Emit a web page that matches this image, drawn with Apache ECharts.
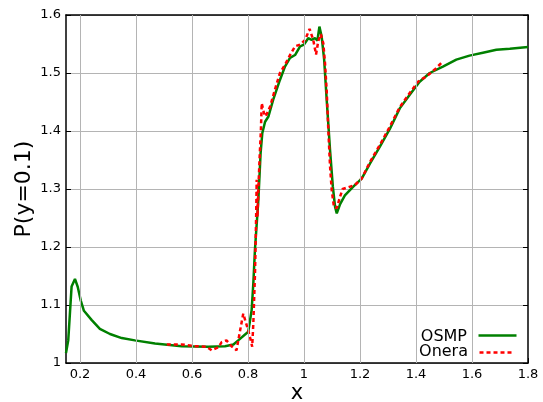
<!DOCTYPE html>
<html><head><meta charset="utf-8">
<script src="https://cdn.jsdelivr.net/npm/echarts@6/dist/echarts.min.js"></script>
<style>html,body{margin:0;padding:0;background:#fff}#c{width:543px;height:402px}</style>
</head><body><div id="c"></div>
<script>
const xTicks = [0.2, 0.4, 0.6, 0.8, 1.0, 1.2, 1.4, 1.6, 1.8];
const yTicks = [1.0, 1.1, 1.2, 1.3, 1.4, 1.5, 1.6];
const seriesNames = ['OSMP', 'Onera'];
const osmpX = [0.150,0.158,0.170,0.182,0.192,0.2025,0.214,0.242,0.271,0.307,0.349,0.396,0.468,0.563,0.658,0.718,0.748,0.765,0.801,0.805,0.813,0.819,0.825,0.837,0.845,0.851,0.861,0.873,0.890,0.914,0.932,0.950,0.968,0.986,1.000,1.015,1.027,1.039,1.048,1.055,1.063,1.072,1.081,1.087,1.093,1.103,1.111,1.117,1.129,1.146,1.176,1.206,1.236,1.271,1.307,1.342,1.377,1.413,1.449,1.496,1.544,1.591,1.639,1.687,1.735,1.800];
const osmpY = [1.017,1.039,1.132,1.145,1.131,1.108,1.090,1.074,1.059,1.050,1.043,1.039,1.0335,1.029,1.028,1.029,1.032,1.039,1.054,1.056,1.091,1.137,1.197,1.281,1.362,1.396,1.416,1.425,1.454,1.488,1.511,1.526,1.531,1.546,1.549,1.560,1.557,1.560,1.556,1.580,1.563,1.523,1.454,1.411,1.367,1.304,1.269,1.258,1.274,1.289,1.304,1.318,1.344,1.373,1.404,1.439,1.462,1.485,1.500,1.511,1.523,1.530,1.535,1.540,1.542,1.545];
const oneraX = [0.510,0.563,0.611,0.652,0.670,0.694,0.706,0.723,0.741,0.759,0.771,0.783,0.789,0.801,0.810,0.815,0.819,0.825,0.829,0.831,0.834,0.837,0.842,0.846,0.849,0.852,0.857,0.863,0.879,0.896,0.914,0.932,0.950,0.968,0.986,1.004,1.020,1.033,1.043,1.051,1.060,1.069,1.075,1.081,1.087,1.093,1.099,1.107,1.117,1.129,1.138,1.158,1.182,1.206,1.236,1.271,1.307,1.342,1.377,1.407,1.437,1.467,1.490];
const oneraY = [1.032,1.032,1.029,1.028,1.022,1.027,1.036,1.039,1.029,1.022,1.054,1.085,1.088,1.056,1.039,1.028,1.068,1.154,1.250,1.316,1.252,1.300,1.360,1.400,1.448,1.445,1.431,1.425,1.442,1.471,1.500,1.514,1.531,1.546,1.549,1.557,1.576,1.557,1.532,1.555,1.567,1.551,1.517,1.470,1.400,1.339,1.298,1.269,1.267,1.287,1.300,1.303,1.307,1.318,1.347,1.376,1.408,1.441,1.465,1.485,1.494,1.506,1.517];

const font = 'DejaVu Sans';
const GREEN = '#008000', RED = '#ff0000';
const chart = echarts.init(document.getElementById('c'), null, {renderer: 'canvas'});
const axisLine = {show: true, onZero: false, lineStyle: {color: '#000', width: 1.5}};
const yTick = {show: true, inside: true, length: 5, lineStyle: {color: '#000', width: 1}};
const xTick = {show: true, inside: true, length: 5, customValues: xTicks, lineStyle: {color: '#000', width: 1}};

// legend drawn as graphic (text right-aligned, line sample to the right)
const legendGraphic = [
  {type: 'text', right: 76, top: 329, style: {text: seriesNames[0], font: '16px "DejaVu Sans"', fill: '#000', textAlign: 'right'}},
  {type: 'line', left: 476, top: 333, shape: {x1: 0, y1: 0, x2: 38, y2: 0}, style: {stroke: GREEN, lineWidth: 2.5}},
  {type: 'text', right: 75, top: 344, style: {text: seriesNames[1], font: '16px "DejaVu Sans"', fill: '#000', textAlign: 'right'}},
  {type: 'line', left: 477, top: 350, shape: {x1: 0, y1: 0, x2: 33, y2: 0}, style: {stroke: RED, lineWidth: 2.5, lineDash: [4, 3]}}
];

chart.setOption({
  animation: false,
  textStyle: {fontFamily: font},
  grid: {left: 66, right: 15, top: 15, bottom: 39, containLabel: false, outerBoundsMode: 'none'},
  xAxis: [
    {
      type: 'value', min: 0.15, max: 1.8, interval: 0.2,
      name: 'x', nameLocation: 'middle', nameGap: 20, nameMoveOverlap: false,
      nameTextStyle: {fontFamily: font, fontSize: 21, color: '#000'},
      axisLine: axisLine, axisTick: xTick,
      axisLabel: {fontFamily: font, fontSize: 13, color: '#000', margin: 5,
        customValues: xTicks, formatter: v => String(+v.toFixed(1))},
      splitLine: {show: false}
    },
    {
      type: 'value', min: 0.15, max: 1.8, position: 'top',
      axisLine: axisLine, axisTick: xTick,
      axisLabel: {show: false}, splitLine: {show: false}
    }
  ],
  yAxis: [
    {
      type: 'value', min: 1.0, max: 1.6, interval: 0.1,
      name: 'P(y=0.1)', nameLocation: 'middle', nameGap: 31, nameMoveOverlap: false,
      nameTextStyle: {fontFamily: font, fontSize: 22, color: '#000'},
      axisLine: axisLine, axisTick: yTick,
      axisLabel: {fontFamily: font, fontSize: 13, color: '#000', margin: 5,
        formatter: v => String(+v.toFixed(1))},
      splitLine: {show: true, lineStyle: {color: '#b4b4b4', width: 1}}
    },
    {
      type: 'value', min: 1.0, max: 1.6, interval: 0.1, position: 'right',
      axisLine: axisLine, axisTick: yTick,
      axisLabel: {show: false}, splitLine: {show: false}
    }
  ],
  graphic: legendGraphic,
  series: [
    {
      name: 'grid', type: 'line', data: [], xAxisIndex: 0, yAxisIndex: 0,
      markLine: {
        silent: true, symbol: 'none', label: {show: false},
        lineStyle: {color: '#b4b4b4', width: 1, type: 'solid'},
        data: xTicks.slice(0, -1).map(v => ({xAxis: v}))
      }
    },
    {
      name: seriesNames[0], type: 'line', showSymbol: false, symbol: 'none',
      data: osmpX.map((x, i) => [x, osmpY[i]]),
      lineStyle: {color: GREEN, width: 2.5}, itemStyle: {color: GREEN}, z: 3
    },
    {
      name: seriesNames[1], type: 'line', showSymbol: false, symbol: 'none',
      data: oneraX.map((x, i) => [x, oneraY[i]]),
      lineStyle: {color: RED, width: 2.5, type: [4, 3]}, itemStyle: {color: RED}, z: 4
    }
  ]
});
</script></body></html>
